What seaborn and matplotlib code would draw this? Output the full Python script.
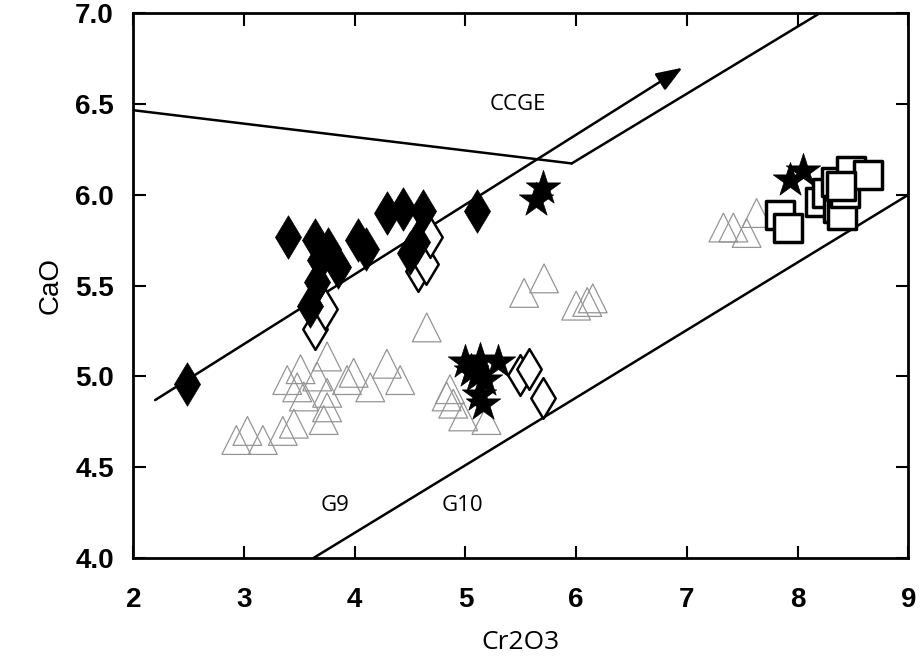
import matplotlib
matplotlib.use("Agg")
import matplotlib.pyplot as plt
import seaborn as sns
import pandas as pd

# ---- data ----
diamond_fill_x = [2.48, 3.40, 3.64, 3.69, 3.85, 3.60, 3.66, 3.76, 4.03, 4.10, 4.29, 4.44, 4.62, 5.10, 4.50, 4.56]
diamond_fill_y = [4.96, 5.77, 5.75, 5.64, 5.60, 5.39, 5.52, 5.70, 5.75, 5.70, 5.90, 5.92, 5.91, 5.91, 5.68, 5.74]

diamond_open_x = [3.64, 3.73, 4.57, 4.64, 4.68, 5.49, 5.57, 5.70]
diamond_open_y = [5.26, 5.37, 5.58, 5.62, 5.77, 5.01, 5.04, 4.88]

star_x = [5.64, 5.70, 7.93, 8.05, 5.00, 5.13, 5.29, 5.10, 5.18, 5.12, 5.16, 5.05]
star_y = [5.97, 6.04, 6.08, 6.13, 5.08, 5.09, 5.08, 5.00, 4.98, 4.90, 4.85, 5.03]

square_x = [7.84, 7.91, 8.20, 8.27, 8.37, 8.40, 8.35, 8.43, 8.48, 8.64, 8.39]
square_y = [5.89, 5.82, 5.96, 6.01, 5.93, 5.89, 6.07, 6.01, 6.13, 6.11, 6.05]

tri_x = [3.75, 3.51, 3.48, 3.66, 3.75, 3.93, 4.14, 4.29, 4.41, 3.99, 3.75, 3.72,
         3.03, 2.93, 3.17, 3.35, 3.45, 4.65, 3.39, 3.54,
         5.71, 5.53, 6.10, 6.00, 6.15,
         4.89, 4.98, 5.19, 4.86, 4.83,
         7.33, 7.42, 7.63, 7.54]
tri_y = [5.11, 5.04, 4.94, 5.00, 4.91, 4.98, 4.94, 5.07, 4.98, 5.02, 4.83, 4.76,
         4.70, 4.65, 4.65, 4.70, 4.74, 5.27, 4.98, 4.89,
         5.54, 5.46, 5.41, 5.39, 5.43,
         4.85, 4.78, 4.76, 4.93, 4.89,
         5.82, 5.82, 5.90, 5.79]

# boundary lines
ccge_x = [2.0, 5.96]
ccge_y = [6.466, 6.173]
upper_x = [5.96, 8.20]
upper_y = [6.173, 7.0]
lower_x = [3.626, 9.0]
lower_y = [4.0, 6.0]
arrow_start = (2.197, 4.87)
arrow_end = (6.96, 6.70)

x_ticks = [2, 3, 4, 5, 6, 7, 8, 9]
y_ticks = [4.0, 4.5, 5.0, 5.5, 6.0, 6.5, 7.0]

# ---- plotting ----
sns.set_style("white")
plt.rcParams["font.family"] = ["Liberation Sans", "DejaVu Sans"]
for key in ["text.color", "axes.labelcolor", "xtick.color", "ytick.color"]:
    plt.rcParams[key] = "black"

fig = plt.figure(figsize=(9.23, 6.62), dpi=100)
ax = fig.add_axes([0.1445, 0.157, 0.8395, 0.823])

tri_df = pd.DataFrame({"x": tri_x, "y": tri_y})
sns.scatterplot(data=tri_df, x="x", y="y", marker="^", s=430, facecolor="none",
                edgecolor="#959595", linewidth=0.9, ax=ax, zorder=2)

df_df = pd.DataFrame({"x": diamond_fill_x, "y": diamond_fill_y})
sns.scatterplot(data=df_df, x="x", y="y", marker="d", s=490, color="black",
                edgecolor="black", linewidth=0.5, ax=ax, zorder=4)

do_df = pd.DataFrame({"x": diamond_open_x, "y": diamond_open_y})
sns.scatterplot(data=do_df, x="x", y="y", marker="d", s=430, facecolor="white",
                edgecolor="black", linewidth=1.8, ax=ax, zorder=3)

st_df = pd.DataFrame({"x": star_x, "y": star_y})
sns.scatterplot(data=st_df, x="x", y="y", marker="*", s=680, color="black",
                edgecolor="black", linewidth=0.5, ax=ax, zorder=5)

sq_df = pd.DataFrame({"x": square_x, "y": square_y})
sns.scatterplot(data=sq_df, x="x", y="y", marker="s", s=400, facecolor="white",
                edgecolor="black", linewidth=2.5, ax=ax, zorder=6)

lw = 1.8
ax.plot(ccge_x, ccge_y, color="black", lw=lw, zorder=1)
ax.plot(upper_x, upper_y, color="black", lw=lw, zorder=1)
ax.plot(lower_x, lower_y, color="black", lw=lw, zorder=1)
ax.annotate("", xy=arrow_end, xytext=arrow_start,
            arrowprops=dict(arrowstyle="-|>,head_length=1.6,head_width=0.6",
                            color="black", lw=lw, shrinkA=0, shrinkB=0),
            zorder=1)

txt_font = ["Open Sans", "DejaVu Sans"]
ax.text(5.47, 6.5, "CCGE", fontsize=16, family=txt_font, ha="center", va="center")
ax.text(3.82, 4.29, "G9", fontsize=16, family=txt_font, ha="center", va="center")
ax.text(4.97, 4.29, "G10", fontsize=16, family=txt_font, ha="center", va="center")

ax.set_xlim(2, 9)
ax.set_ylim(4.0, 7.0)
ax.set_xticks(x_ticks)
ax.set_xticklabels([str(v) for v in x_ticks], fontsize=20, fontweight="bold")
ax.set_yticks(y_ticks)
ax.set_yticklabels([f"{v:.1f}" for v in y_ticks], fontsize=20, fontweight="bold")
ax.tick_params(axis="x", direction="in", length=9, width=1.5, top=True, bottom=True, pad=21)
ax.tick_params(axis="y", direction="in", length=9, width=1.5, left=True, right=True, pad=14)
for sp in ax.spines.values():
    sp.set_visible(True)
    sp.set_linewidth(2.0)
    sp.set_color("black")

ax.set_xlabel("Cr2O3", fontsize=19, family=txt_font, labelpad=12)
ax.set_ylabel("CaO", fontsize=20, family=["Liberation Sans", "DejaVu Sans"], labelpad=8)

fig.savefig("out.png", dpi=100)
